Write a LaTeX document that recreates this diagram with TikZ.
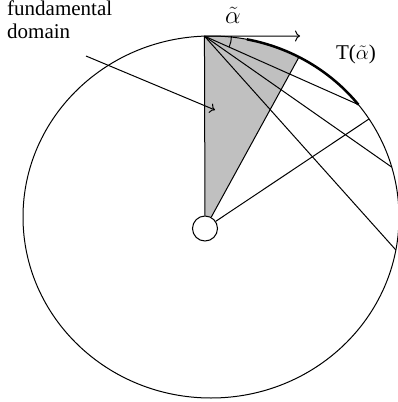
\documentclass[tikz,border=0pt]{standalone}
\usepackage{amsmath,amssymb}
\usepackage{fontspec}
\setmainfont{Liberation Serif}
\usetikzlibrary{calc,arrows.meta}
\definecolor{domaingray}{RGB}{192,192,192}
\tikzset{
  edge/.style={line width=1pt},
  hubnode/.style={circle,draw,fill=white,line width=1pt,minimum size=25pt,inner sep=0pt},
  txt/.style={font=\fontsize{21}{23}\selectfont,inner sep=0pt}
}

\begin{document}
\begin{tikzpicture}[x=1pt,y=-1pt]
  \useasboundingbox (0,0) rectangle (398,402);
  % points on the boundary
  \coordinate (c) at (211,217);
  \coordinate (V) at ($(c)+(-92:188 and 181)$);
  \coordinate (G) at ($(c)+(-62.1:188 and 181)$);
  \coordinate (T0) at ($(c)+(-79:188 and 181)$);
  \coordinate (P1) at ($(c)+(-38.4:188 and 181)$);
  \coordinate (Q) at ($(c)+(-32.8:188 and 181)$);
  \coordinate (P2) at ($(c)+(-16:188 and 181)$);
  \coordinate (P3) at ($(c)+(10.5:188 and 181)$);
  \coordinate (tip) at (300,36);
  \coordinate (fdtail) at (86,56);
  \coordinate (fdhead) at (215,110);

  % fundamental domain
  \fill[domaingray] (205,228.5) -- (V)
    arc[start angle=-92,end angle=-62.1,x radius=188,y radius=181] -- cycle;
  \draw[edge] (c) ellipse [x radius=188,y radius=181];
  \node[hubnode] (hub) at (205,228.5) {};
  \draw[edge] (V) -- (hub);
  \draw[edge] (hub) -- (G);
  \draw[edge] (hub) -- (Q);
  \draw[edge] (V) -- (P1);
  \draw[edge] (V) -- (P2);
  \draw[edge] (V) -- (P3);
  \draw[line width=2.5pt] (T0)
    arc[start angle=-79,end angle=-38.4,x radius=188,y radius=181];
  \draw[edge] ($(V)+(27,0)$) arc[start angle=0,end angle=24,radius=27];
  \draw[edge,-{To[length=5pt,width=11pt]}] (V) -- (tip);

  % labels
  \node[txt,anchor=north west,align=left] (fd) at (7,1) {fundamental\\domain};
  \node[txt,font=\fontsize{25}{27}\selectfont] (alpha) at (233,15) {$\tilde{\alpha}$};
  \node[txt] (Talpha) at (356,54) {T($\tilde{\alpha}$)};
  \draw[edge,-{To[length=5pt,width=10pt]}] (fdtail) -- (fdhead);
\end{tikzpicture}
\end{document}
